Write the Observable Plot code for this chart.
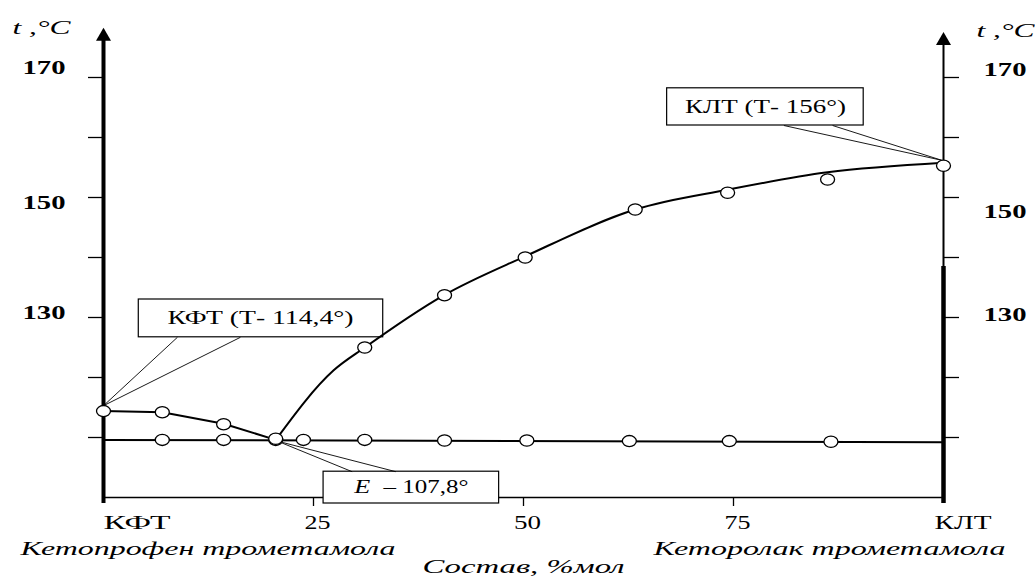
<!DOCTYPE html>
<html><head><meta charset="utf-8">
<script src="https://cdn.jsdelivr.net/npm/d3@7"></script>
<script src="https://cdn.jsdelivr.net/npm/@observablehq/plot@0.6"></script>
<style>body{margin:0;background:#fff} #chart{width:1035px;height:576px}</style>
</head><body><div id="chart"></div>
<script>
// ---- data ----
const liquidusComp = [0, 7.0, 14.3, 20.5, 31.1, 40.6, 50.2, 63.3, 74.3, 86.2, 100];
const liquidusT    = [114.4, 114.2, 112.2, 109.8, 125.0, 133.7, 140.0, 148.0, 150.8, 153.0, 155.3];
const solidusComp  = [7.0, 14.3, 20.5, 23.8, 31.1, 40.6, 50.4, 62.6, 74.5, 86.6];
const solidusT     = [109.6, 109.6, 109.6, 109.6, 109.6, 109.5, 109.5, 109.4, 109.4, 109.3];
// drawn curves
const leftBranchComp  = [0, 7.0, 14.3, 20.5];
const leftBranchT     = [114.4, 114.2, 112.3, 109.6];
const rightBranchComp = [20.5, 27.4, 31.1, 40.5, 50.2, 63.3, 74.3, 86.2, 100];
const rightBranchT    = [109.6, 121.2, 125.0, 133.7, 140.2, 148.0, 151.3, 154.2, 155.8];
const solidusLineComp = [0, 100];
const solidusLineT    = [109.6, 109.2];
// axes
const yTicks = [110, 120, 130, 140, 150, 160, 170];
const yTickLabels = [170, 150, 130];
const xTicks = [25, 50, 75];
const xTickLabels = ["КФТ", "25", "50", "75", "КЛТ"];
const xTickValues = [0, 25, 50, 75, 100];
const yUnit = "t ,°C";
const leftName = "Кетопрофен трометамола";
const rightName = "Кеторолак трометамола";
const xTitle = "Состав, %мол";
const labelKFT = "КФТ (Т- 114,4°)";
const labelKLT = "КЛТ (Т- 156°)";
const labelE1 = "E";
const labelE2 = "– 107,8°";

const liq = liquidusComp.map((c, i) => ({c, t: liquidusT[i]}));
const sol = solidusComp.map((c, i) => ({c, t: solidusT[i]}));
const lb = leftBranchComp.map((c, i) => ({c, t: leftBranchT[i]}));
const rb = rightBranchComp.map((c, i) => ({c, t: rightBranchT[i]}));
const sl = solidusLineComp.map((c, i) => ({c, t: solidusLineT[i]}));

const ellipse = {draw(ctx) {
  const rx = 7, ry = 5.6, k = 0.5523;
  ctx.moveTo(rx, 0);
  ctx.bezierCurveTo(rx, ry*k, rx*k, ry, 0, ry);
  ctx.bezierCurveTo(-rx*k, ry, -rx, ry*k, -rx, 0);
  ctx.bezierCurveTo(-rx, -ry*k, -rx*k, -ry, 0, -ry);
  ctx.bezierCurveTo(rx*k, -ry, rx, -ry*k, rx, 0);
  ctx.closePath();
}};
const arrow = {draw(ctx) {
  ctx.moveTo(0, 0); ctx.lineTo(7.5, 13); ctx.lineTo(-7.5, 13); ctx.closePath();
}};

const serif = "'Liberation Serif', 'Times New Roman', serif";
const leaders = [
  {x1: 8.8, y1: 126.7, x2: 0, y2: 115.3}, {x1: 16.3, y1: 126.7, x2: 0, y2: 115.3},
  {x1: 81.0, y1: 162.0, x2: 99.8, y2: 156.2}, {x1: 86.8, y1: 162.0, x2: 99.8, y2: 156.2},
  {x1: 29.6, y1: 104.3, x2: 20.7, y2: 109.4}, {x1: 34.8, y1: 104.3, x2: 20.7, y2: 109.4}
];
// label offsets of the scanned figure (px), same order as yTickLabels
const leftLabelDy = [-9, 6, -4];
const rightLabelDy = [-7, 15, -2];

const plot = Plot.plot({
  width: 1035, height: 576,
  marginLeft: 103, marginRight: 92, marginTop: 29, marginBottom: 79,
  x: {domain: [0, 100], axis: null},
  y: {domain: [100, 178], axis: null},
  style: {fontFamily: serif, background: "#fff", color: "#000", overflow: "visible"},
  marks: [
    // y ticks
    Plot.axisY({anchor: "left", ticks: yTicks, tickSize: 15, tickFormat: () => "", label: null, strokeWidth: 1.3}),
    Plot.axisY({anchor: "right", ticks: yTicks, tickSize: 15, tickFormat: () => "", label: null, strokeWidth: 1.3}),
    ...yTickLabels.map((v, i) => Plot.text([v], {x: 0, y: d => d, text: d => String(d), dx: -38, dy: leftLabelDy[i],
      textAnchor: "end", fontSize: 18, fontWeight: "bold"})),
    ...yTickLabels.map((v, i) => Plot.text([v], {x: 100, y: d => d, text: d => String(d), dx: 40, dy: rightLabelDy[i],
      textAnchor: "start", fontSize: 18, fontWeight: "bold"})),
    // x axis
    Plot.axisX({anchor: "bottom", ticks: xTicks, tickSize: 9, tickFormat: () => "", label: null, strokeWidth: 1.3}),
    Plot.ruleY([100], {x1: 0, x2: 100, strokeWidth: 1.6}),
    // vertical axes
    Plot.ruleX([0], {y1: 99, y2: 176.5, strokeWidth: 4}),
    Plot.dot([0], {x: d => d, y: () => 178.3, symbol: arrow, fill: "#000", stroke: null}),
    Plot.ruleX([100], {y1: 99, y2: 176, strokeWidth: 2}),
    Plot.ruleX([100], {y1: 99, y2: 138.5, strokeWidth: 4.5}),
    Plot.dot([100], {x: d => d, y: () => 177.6, symbol: arrow, fill: "#000", stroke: null}),
    // annotation boxes
    Plot.rect([labelKFT], {x1: 4.2, x2: 33.3, y1: 126.7, y2: 133.0, fill: "#fff", stroke: "#000", strokeWidth: 1.2}),
    Plot.rect([labelKLT], {x1: 67.1, x2: 90.5, y1: 162.0, y2: 168.2, fill: "#fff", stroke: "#000", strokeWidth: 1.2}),
    Plot.rect([labelE2], {x1: 26.2, x2: 47.1, y1: 99.0, y2: 104.3, fill: "#fff", stroke: "#000", strokeWidth: 1.2}),
    Plot.link(leaders, {x1: "x1", y1: "y1", x2: "x2", y2: "y2", stroke: "#000", strokeWidth: 0.9}),
    Plot.text([labelKFT], {x: 18.7, y: 129.85, text: d => d, fontSize: 18}),
    Plot.text([labelKLT], {x: 78.8, y: 165.1, text: d => d, fontSize: 18}),
    Plot.text([labelE1], {x: 30.8, y: 101.65, text: d => d, fontSize: 18, fontStyle: "italic"}),
    Plot.text([labelE2], {x: 38.4, y: 101.65, text: d => d, fontSize: 18}),
    // curves
    Plot.line(sl, {x: "c", y: "t", strokeWidth: 2}),
    Plot.line(lb, {x: "c", y: "t", strokeWidth: 2}),
    Plot.line(rb, {x: "c", y: "t", strokeWidth: 2, curve: "monotone-x"}),
    // points
    Plot.dot(sol, {x: "c", y: "t", symbol: ellipse, fill: "#fff", stroke: "#000", strokeWidth: 1.3}),
    Plot.dot(liq, {x: "c", y: "t", symbol: ellipse, fill: "#fff", stroke: "#000", strokeWidth: 1.3}),
    // x tick labels
    Plot.text(xTickLabels.slice(1, 4), {x: (d, i) => xTickValues[i + 1], frameAnchor: "bottom", dy: 31, dx: 4, fontSize: 18}),
    Plot.text([xTickLabels[0]], {x: xTickValues[0], frameAnchor: "bottom", dy: 31, textAnchor: "start", fontSize: 18}),
    Plot.text([xTickLabels[4]], {x: xTickValues[4], frameAnchor: "bottom", dy: 31, dx: -9, textAnchor: "start", fontSize: 18}),
    // names
    Plot.text([leftName], {x: 0, frameAnchor: "bottom", dy: 57, dx: -83, textAnchor: "start", fontSize: 18, fontStyle: "italic"}),
    Plot.text([rightName], {x: 100, frameAnchor: "bottom", dy: 57, dx: 62, textAnchor: "end", fontSize: 18, fontStyle: "italic"}),
    Plot.text([xTitle], {x: 50, frameAnchor: "bottom", dy: 75, fontSize: 18, fontStyle: "italic"}),
    // unit labels
    Plot.text([yUnit], {x: 0, y: 178.3, dx: -62, textAnchor: "middle", fontSize: 19, fontStyle: "italic"}),
    Plot.text([yUnit], {x: 100, y: 177.8, dx: 62, textAnchor: "middle", fontSize: 19, fontStyle: "italic"})
  ]
});
document.getElementById("chart").appendChild(plot);

// horizontal stretch of the scanned lettering (target widths in px)
const textWidths = new Map([
  ["170", 43], ["150", 43], ["130", 43],
  [labelKFT, 186], [labelKLT, 161], [labelE1, 16], [labelE2, 85],
  ["КФТ", 67], ["25", 26], ["50", 27], ["75", 26], ["КЛТ", 57],
  [leftName, 375], [rightName, 352], [xTitle, 202], [yUnit, 58]
]);
plot.querySelectorAll("text").forEach(t => {
  const w = textWidths.get(t.textContent.trim());
  if (w && t.getComputedTextLength() > 0) {
    t.setAttribute("textLength", w);
    t.setAttribute("lengthAdjust", "spacingAndGlyphs");
  }
});
</script></body></html>
